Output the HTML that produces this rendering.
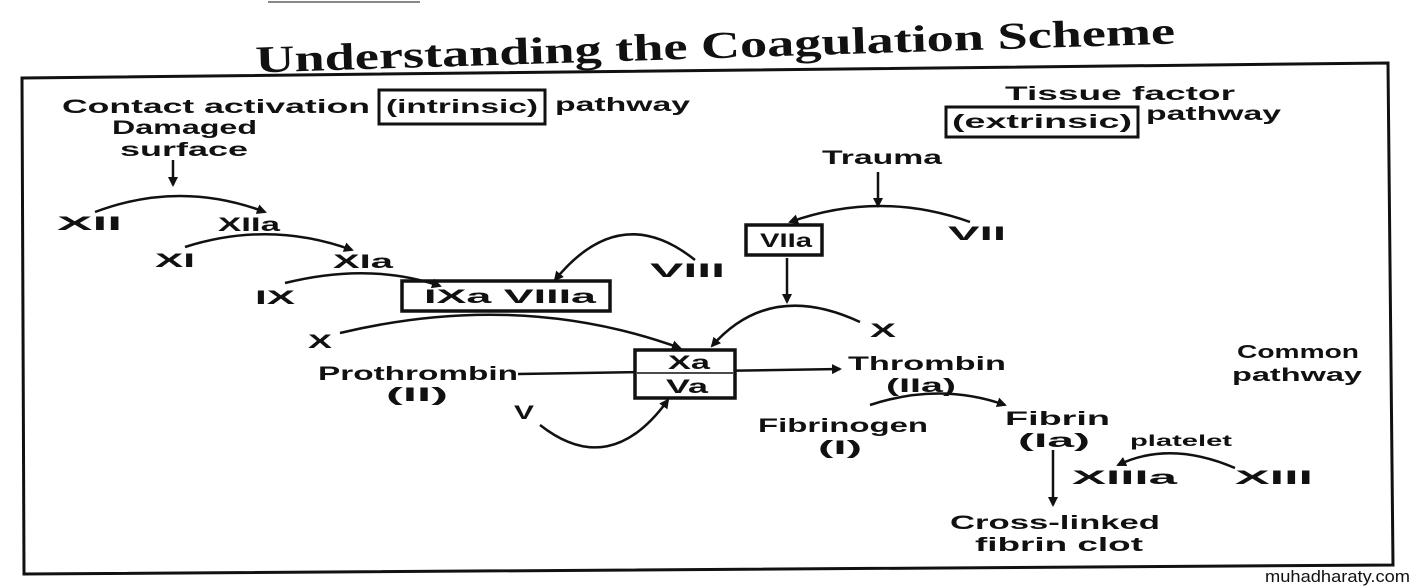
<!DOCTYPE html>
<html><head><meta charset="utf-8"><style>
html,body{margin:0;padding:0;background:#fff;}
svg{display:block}
text{font-family:"Liberation Sans",sans-serif;font-weight:bold;fill:#111;}
text.t{font-family:"Liberation Serif",serif;}
</style></head><body>
<svg width="1415" height="588" viewBox="0 0 1415 588" xmlns="http://www.w3.org/2000/svg">
<defs><marker id="a" markerWidth="10" markerHeight="10" refX="8" refY="5" orient="auto" markerUnits="userSpaceOnUse"><path d="M0,0 L10,5 L0,10 z" fill="#111"/></marker></defs>
<rect width="1415" height="588" fill="#fff"/>
<line x1="268" y1="2" x2="420" y2="2" stroke="#888" stroke-width="2"/>
<text class="t" x="255" y="58" font-size="38" textLength="920" lengthAdjust="spacingAndGlyphs" transform="rotate(-1.8 715 40)">Understanding the Coagulation Scheme</text>
<polygon points="22,78 1388,63 1393,565 24,574" fill="none" stroke="#111" stroke-width="3"/>
<g font-size="19" stroke="none">
<text x="62" y="113" textLength="308" lengthAdjust="spacingAndGlyphs">Contact activation</text>
<rect x="379" y="90" width="166" height="34" fill="none" stroke="#111" stroke-width="3"/>
<text x="386" y="113" textLength="152" lengthAdjust="spacingAndGlyphs">(intrinsic)</text>
<text x="555" y="111" textLength="135" lengthAdjust="spacingAndGlyphs">pathway</text>
<text x="112" y="134" textLength="145" lengthAdjust="spacingAndGlyphs">Damaged</text>
<text x="120" y="156" textLength="128" lengthAdjust="spacingAndGlyphs">surface</text>
<text x="1005" y="100" textLength="230" lengthAdjust="spacingAndGlyphs">Tissue factor</text>
<rect x="946" y="107" width="192" height="30" fill="none" stroke="#111" stroke-width="3"/>
<text x="952" y="128" textLength="180" lengthAdjust="spacingAndGlyphs">(extrinsic)</text>
<text x="1146" y="120" textLength="135" lengthAdjust="spacingAndGlyphs">pathway</text>
<text x="822" y="164" textLength="120" lengthAdjust="spacingAndGlyphs">Trauma</text>
<text x="57" y="230" textLength="65" lengthAdjust="spacingAndGlyphs">XII</text>
<text x="218" y="231" textLength="62" lengthAdjust="spacingAndGlyphs">XIIa</text>
<text x="155" y="267" textLength="40" lengthAdjust="spacingAndGlyphs">XI</text>
<text x="333" y="268" textLength="60" lengthAdjust="spacingAndGlyphs">XIa</text>
<text x="255" y="304" textLength="40" lengthAdjust="spacingAndGlyphs">IX</text>
<rect x="402" y="281" width="208" height="30" fill="none" stroke="#111" stroke-width="3.5"/>
<text x="424" y="303" textLength="172" lengthAdjust="spacingAndGlyphs">IXa VIIIa</text>
<text x="650" y="277" textLength="75" lengthAdjust="spacingAndGlyphs">VIII</text>
<rect x="746" y="225" width="76" height="30" fill="none" stroke="#111" stroke-width="3.5"/>
<text x="760" y="247" textLength="52" lengthAdjust="spacingAndGlyphs">VIIa</text>
<text x="948" y="240" textLength="58" lengthAdjust="spacingAndGlyphs">VII</text>
<text x="870" y="337" textLength="26" lengthAdjust="spacingAndGlyphs">X</text>
<text x="308" y="348" textLength="24" lengthAdjust="spacingAndGlyphs">X</text>
<line x1="518" y1="374" x2="840" y2="369" stroke="#111" stroke-width="2.5" marker-end="url(#a)"/>
<rect x="635" y="350" width="100" height="48" fill="#fff" stroke="#111" stroke-width="3.5"/>
<line x1="637" y1="373" x2="733" y2="373" stroke="#111" stroke-width="1.5"/>
<text x="668" y="369" textLength="42" lengthAdjust="spacingAndGlyphs">Xa</text>
<text x="666" y="393" textLength="42" lengthAdjust="spacingAndGlyphs">Va</text>
<text x="318" y="380" textLength="200" lengthAdjust="spacingAndGlyphs">Prothrombin</text>
<text x="386" y="401" textLength="62" lengthAdjust="spacingAndGlyphs">(II)</text>
<text x="848" y="370" textLength="158" lengthAdjust="spacingAndGlyphs">Thrombin</text>
<text x="886" y="392" textLength="70" lengthAdjust="spacingAndGlyphs">(IIa)</text>
<text x="514" y="419" textLength="20" lengthAdjust="spacingAndGlyphs">V</text>
<text x="758" y="432" textLength="170" lengthAdjust="spacingAndGlyphs">Fibrinogen</text>
<text x="818" y="454" textLength="44" lengthAdjust="spacingAndGlyphs">(I)</text>
<text x="1005" y="425" textLength="105" lengthAdjust="spacingAndGlyphs">Fibrin</text>
<text x="1018" y="447" textLength="72" lengthAdjust="spacingAndGlyphs">(Ia)</text>
<text x="1130" y="446" font-size="16" textLength="102" lengthAdjust="spacingAndGlyphs">platelet</text>
<text x="1072" y="484" textLength="105" lengthAdjust="spacingAndGlyphs">XIIIa</text>
<text x="1235" y="484" textLength="78" lengthAdjust="spacingAndGlyphs">XIII</text>
<text x="1237" y="358" font-size="18" textLength="122" lengthAdjust="spacingAndGlyphs">Common</text>
<text x="1232" y="381" font-size="18" textLength="130" lengthAdjust="spacingAndGlyphs">pathway</text>
<text x="950" y="529" textLength="210" lengthAdjust="spacingAndGlyphs">Cross-linked</text>
<text x="975" y="551" textLength="168" lengthAdjust="spacingAndGlyphs">fibrin clot</text>
</g>
<g fill="none" stroke="#111" stroke-width="2.5" marker-end="url(#a)">
<line x1="173" y1="160" x2="173" y2="185"/>
<path d="M95,212 Q180,180 265,212"/>
<path d="M185,247 Q270,220 352,250"/>
<path d="M285,283 Q370,262 440,286"/>
<path d="M695,260 Q620,200 555,280"/>
<line x1="878" y1="172" x2="878" y2="206"/>
<path d="M970,222 Q880,190 790,222" marker-end=""/>
<line x1="787" y1="258" x2="787" y2="302"/>
<path d="M860,322 Q770,280 712,346"/>
<path d="M340,333 Q520,290 680,348"/>
<path d="M540,425 Q610,480 668,400"/>
<path d="M870,405 Q940,382 1005,405"/>
<path d="M1235,468 Q1170,440 1118,465"/>
<line x1="1053" y1="450" x2="1053" y2="505"/>
</g>
<text x="1265" y="582" font-size="17" style="font-weight:normal" textLength="145" lengthAdjust="spacingAndGlyphs">muhadharaty.com</text>
</svg>
</body></html>
